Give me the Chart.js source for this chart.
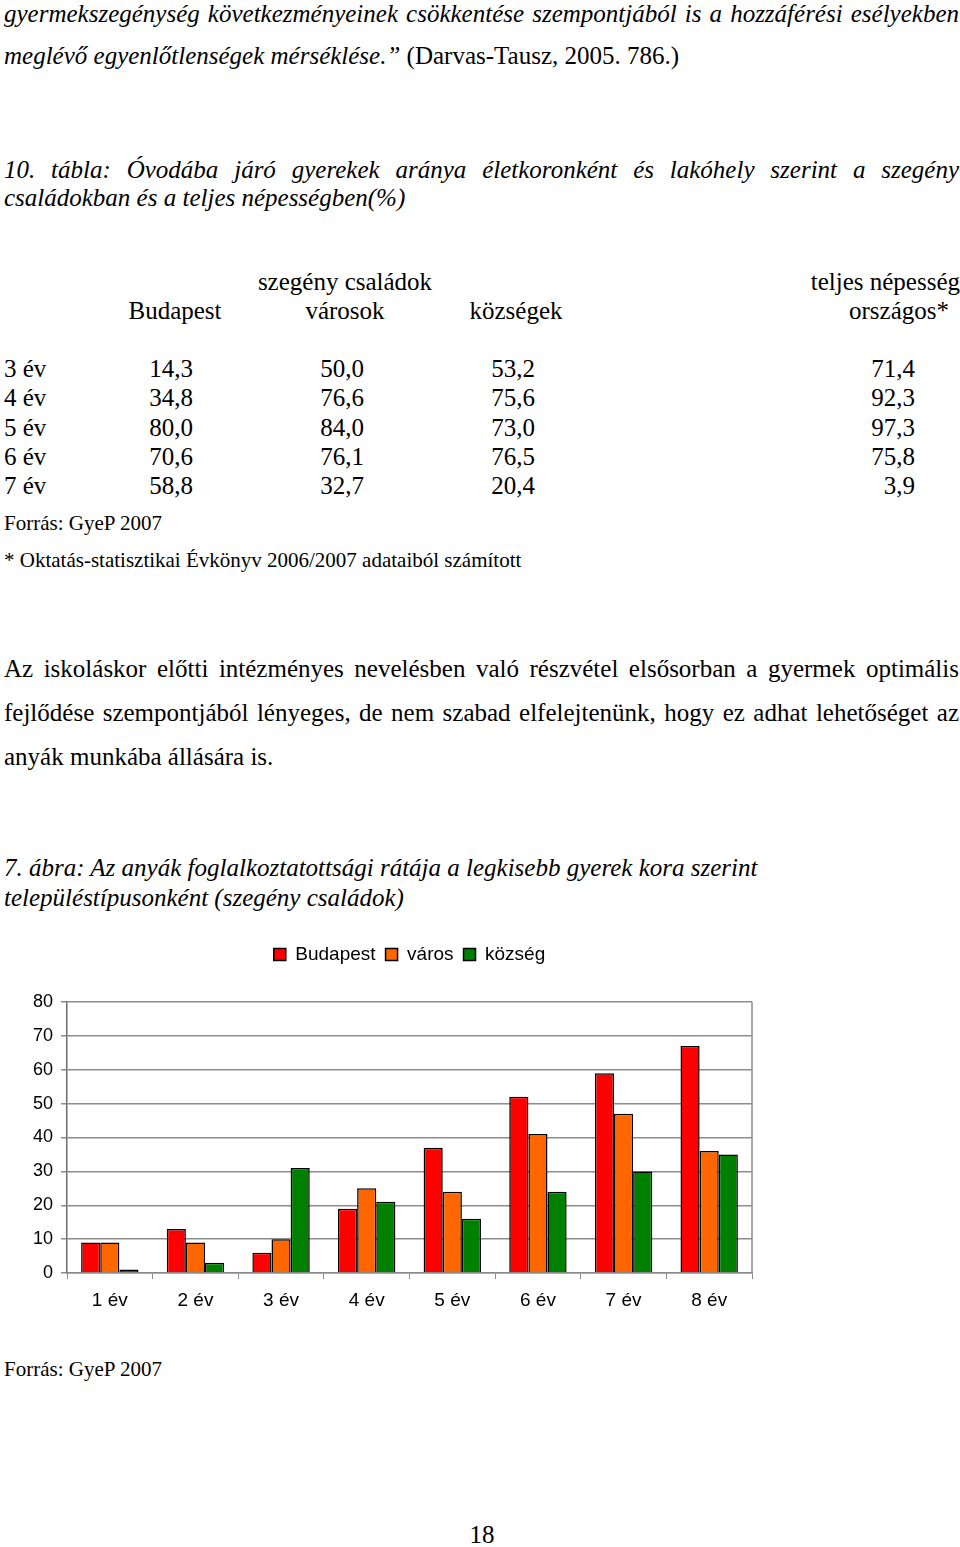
<!DOCTYPE html>
<html>
<head>
<meta charset="utf-8">
<script src="https://cdn.jsdelivr.net/npm/chart.js"></script>
<style>
  body { margin: 0; background: #fff; width: 960px; height: 1547px; position: relative; overflow: hidden;
         font-family: "Liberation Serif", "Times New Roman", serif; color: #000; }
  .t { position: absolute; white-space: nowrap; font-size: 25px; line-height: 25px; }
  .j { text-align: justify; text-align-last: justify; white-space: normal; }
  .i { font-style: italic; }
  .s { font-size: 21px; line-height: 25px; }
  .r { text-align: right; }
  .c { text-align: center; }
  #chartBox { position: absolute; left: 0; top: 930px; width: 770px; height: 400px; }
</style>
</head>
<body>

<div class="t i j" style="left:4px; top:1px; width:955px;">gyermekszegénység következményeinek csökkentése szempontjából is a hozzáférési esélyekben</div>
<div class="t" style="left:4px; top:43px;"><span class="i">meglévő egyenlőtlenségek mérséklése.”</span> (Darvas-Tausz, 2005. 786.)</div>

<div class="t i j" style="left:4px; top:157px; width:955px;">10. tábla: Óvodába járó gyerekek aránya életkoronként és lakóhely szerint a szegény</div>
<div class="t i" style="left:4px; top:185px;">családokban és a teljes népességben(%)</div>

<div id="tabla"></div>

<div class="t s" style="left:4px; top:511px;">Forrás: GyeP 2007</div>
<div class="t s" style="left:4px; top:548px;">* Oktatás-statisztikai Évkönyv 2006/2007 adataiból számított</div>

<div class="t j" style="left:4px; top:656px; width:955px;">Az iskoláskor előtti intézményes nevelésben való részvétel elsősorban a gyermek optimális</div>
<div class="t j" style="left:4px; top:700px; width:955px;">fejlődése szempontjából lényeges, de nem szabad elfelejtenünk, hogy ez adhat lehetőséget az</div>
<div class="t" style="left:4px; top:744px;">anyák munkába állására is.</div>

<div class="t i" style="left:4px; top:855px;">7. ábra: Az anyák foglalkoztatottsági rátája a legkisebb gyerek kora szerint</div>
<div class="t i" style="left:4px; top:885px;">településtípusonként (szegény családok)</div>

<div id="chartBox"><canvas id="abra7"></canvas></div>

<div class="t s" style="left:4px; top:1357px;">Forrás: GyeP 2007</div>
<div class="t" style="left:0; top:1522px; width:964px; text-align:center;">18</div>

<script>
// 10. tábla
const sorok = ["3 év", "4 év", "5 év", "6 év", "7 év"];
const budapestTabla = ["14,3", "34,8", "80,0", "70,6", "58,8"];
const varosokTabla = ["50,0", "76,6", "84,0", "76,1", "32,7"];
const kozsegekTabla = ["53,2", "75,6", "73,0", "76,5", "20,4"];
const orszagosTabla = ["71,4", "92,3", "97,3", "75,8", "3,9"];

// 7. ábra
const korok = ["1 év", "2 év", "3 év", "4 év", "5 év", "6 év", "7 év", "8 év"];
const budapest = [9, 13, 6, 19, 37, 52, 59, 67];
const varos = [9, 9, 10, 25, 24, 41, 47, 36];
const kozseg = [1, 3, 31, 21, 16, 24, 30, 35];

function tablaKiir() {
    let tabla = document.getElementById("tabla");
    let html = "";
    html += '<div class="t c" style="left:245px; top:269px; width:200px;">szegény családok</div>';
    html += '<div class="t r" style="left:760px; top:269px; width:200px;">teljes népesség</div>';
    html += '<div class="t c" style="left:95px; top:298px; width:160px;">Budapest</div>';
    html += '<div class="t c" style="left:265px; top:298px; width:160px;">városok</div>';
    html += '<div class="t c" style="left:436px; top:298px; width:160px;">községek</div>';
    html += '<div class="t c" style="left:819px; top:298px; width:160px;">országos*</div>';
    for (let i = 0; i < sorok.length; i++) {
        let top = 356 + i * 29.25;
        html += '<div class="t" style="left:4px; top:' + top + 'px;">' + sorok[i] + '</div>';
        html += '<div class="t r" style="left:93px; width:100px; top:' + top + 'px;">' + budapestTabla[i] + '</div>';
        html += '<div class="t r" style="left:264px; width:100px; top:' + top + 'px;">' + varosokTabla[i] + '</div>';
        html += '<div class="t r" style="left:435px; width:100px; top:' + top + 'px;">' + kozsegekTabla[i] + '</div>';
        html += '<div class="t r" style="left:815px; width:100px; top:' + top + 'px;">' + orszagosTabla[i] + '</div>';
    }
    tabla.innerHTML = html;
}
tablaKiir();

// keret a rajzterület jobb oldalán + több hely a jelmagyarázat alatt
const keretPlugin = {
    id: "keret",
    beforeLayout(chart) {
        let lg = chart.legend;
        if (lg && !lg._megnyujtva) {
            let eredeti = lg.fit.bind(lg);
            lg.fit = function () {
                eredeti();
                this.height += 28;
            };
            lg._megnyujtva = true;
        }
    },
    afterDraw(chart) {
        let a = chart.chartArea;
        let ctx = chart.ctx;
        ctx.save();
        ctx.strokeStyle = "#8c8c8c";
        ctx.lineWidth = 1.5;
        ctx.beginPath();
        ctx.moveTo(a.right, a.top);
        ctx.lineTo(a.right, a.bottom);
        ctx.stroke();
        ctx.restore();
    }
};

const betu = "'Liberation Sans', Arial, sans-serif";

new Chart(document.getElementById("abra7"), {
    type: "bar",
    data: {
        labels: korok,
        datasets: [
            { label: "Budapest", data: budapest, backgroundColor: "#ff0000" },
            { label: "város", data: varos, backgroundColor: "#ff6600" },
            { label: "község", data: kozseg, backgroundColor: "#008000" }
        ]
    },
    options: {
        responsive: true,
        maintainAspectRatio: false,
        animation: false,
        layout: { padding: { left: 0, right: 18, top: 5, bottom: 0 } },
        datasets: {
            bar: {
                borderColor: "#000",
                borderWidth: 1.5,
                borderSkipped: "bottom",
                categoryPercentage: 0.67,
                barPercentage: 1.0
            }
        },
        plugins: {
            tooltip: { enabled: false },
            legend: {
                position: "top",
                fullSize: false,
                labels: {
                    color: "#000",
                    font: { family: betu, size: 19 },
                    boxWidth: 12,
                    boxHeight: 12,
                    padding: 10
                }
            }
        },
        scales: {
            x: {
                afterFit(scale) { scale.height = 57; },
                grid: { display: true, drawOnChartArea: false, drawTicks: true, tickLength: 6, color: "#8c8c8c", offset: true },
                border: { color: "#8c8c8c", width: 1.5 },
                ticks: { color: "#000", font: { family: betu, size: 19 }, padding: 10 }
            },
            y: {
                min: 0,
                max: 80,
                afterFit(scale) { scale.width = 67; },
                grid: { color: "#8c8c8c", lineWidth: 1.5, tickLength: 6 },
                border: { color: "#6e6e6e", width: 1.5 },
                ticks: { stepSize: 10, color: "#000", font: { family: betu, size: 18 }, padding: 8 }
            }
        }
    },
    plugins: [keretPlugin]
});
</script>
</body>
</html>
